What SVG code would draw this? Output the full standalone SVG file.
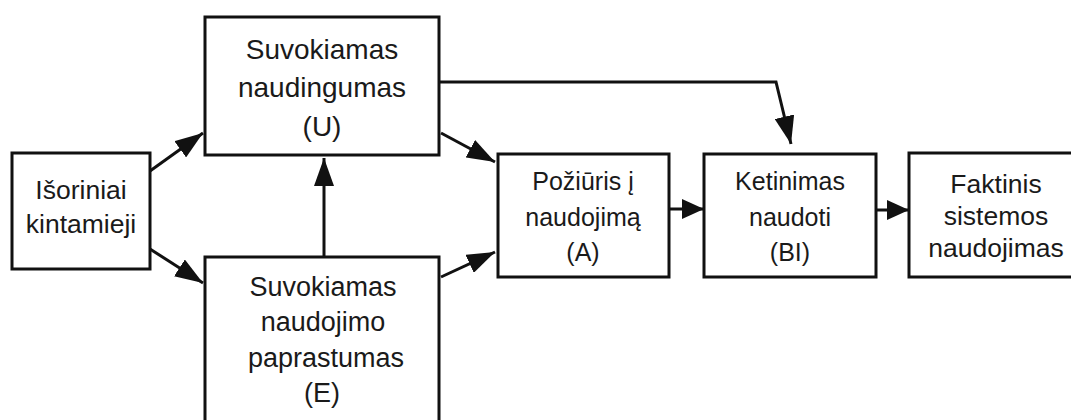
<svg xmlns="http://www.w3.org/2000/svg" width="1071" height="420" viewBox="0 0 1071 420">
  <style>
    .box { fill: #ffffff; stroke: #111111; stroke-width: 3; }
    .lbl { font-family: "Liberation Sans", Arial, Helvetica, sans-serif; font-size: 27px; fill: #1a1a1a; text-anchor: middle; }
    .lg { font-size: 28px; }
    .md { font-size: 26.5px; }
    .sm { font-size: 25px; }
    .con { fill: none; stroke: #111111; stroke-width: 3; }
  </style>
  <defs>
    <marker id="head" markerUnits="userSpaceOnUse" markerWidth="28" markerHeight="20" refX="28" refY="10" orient="auto">
      <path d="M0,0 L28,10 L0,20 Z" fill="#111111"/>
    </marker>
    <marker id="headSmall" markerUnits="userSpaceOnUse" markerWidth="22" markerHeight="20" refX="22" refY="10" orient="auto">
      <path d="M0,0 L22,10 L0,20 Z" fill="#111111"/>
    </marker>
  </defs>
  <rect width="1071" height="420" fill="#ffffff"/>

  <g id="connectors">
    <line class="con" x1="150" y1="171" x2="203" y2="133" marker-end="url(#head)"/>
    <line class="con" x1="150" y1="249" x2="203" y2="283" marker-end="url(#head)"/>
    <line class="con" x1="324" y1="257" x2="324" y2="158" marker-end="url(#head)"/>
    <line class="con" x1="441" y1="133" x2="495" y2="162" marker-end="url(#head)"/>
    <line class="con" x1="441" y1="277" x2="495" y2="252" marker-end="url(#head)"/>
    <polyline class="con" points="439,82 776,82 791,144" marker-end="url(#head)"/>
    <line class="con" x1="669" y1="209" x2="704" y2="209" marker-end="url(#headSmall)"/>
    <line class="con" x1="876" y1="210" x2="909" y2="210" marker-end="url(#headSmall)"/>
  </g>

  <g id="node-isoriniai">
    <rect class="box" x="12" y="153" width="138" height="116"/>
    <text class="lbl md" x="81" y="199">Išoriniai</text>
    <text class="lbl md" x="81" y="233">kintamieji</text>
  </g>

  <g id="node-u">
    <rect class="box" x="205" y="17" width="234" height="138"/>
    <text class="lbl lg" x="322" y="59">Suvokiamas</text>
    <text class="lbl lg" x="322" y="97">naudingumas</text>
    <text class="lbl lg" x="322" y="136">(U)</text>
  </g>

  <g id="node-e">
    <rect class="box" x="205" y="257" width="234" height="175"/>
    <text class="lbl" x="323" y="296">Suvokiamas</text>
    <text class="lbl" x="323" y="331">naudojimo</text>
    <text class="lbl" x="326" y="367">paprastumas</text>
    <text class="lbl" x="322" y="402">(E)</text>
  </g>

  <g id="node-a">
    <rect class="box" x="498" y="154" width="171" height="123"/>
    <text class="lbl sm" x="583" y="190">Požiūris į</text>
    <text class="lbl sm" x="583" y="226">naudojimą</text>
    <text class="lbl sm" x="583" y="261">(A)</text>
  </g>

  <g id="node-bi">
    <rect class="box" x="704" y="154" width="172" height="123"/>
    <text class="lbl sm" x="790" y="190">Ketinimas</text>
    <text class="lbl sm" x="790" y="226">naudoti</text>
    <text class="lbl sm" x="790" y="261">(BI)</text>
  </g>

  <g id="node-faktinis">
    <rect class="box" x="909" y="153" width="175" height="124"/>
    <text class="lbl md" x="996" y="193">Faktinis</text>
    <text class="lbl md" x="996" y="225">sistemos</text>
    <text class="lbl md" x="996" y="257">naudojimas</text>
  </g>
</svg>
